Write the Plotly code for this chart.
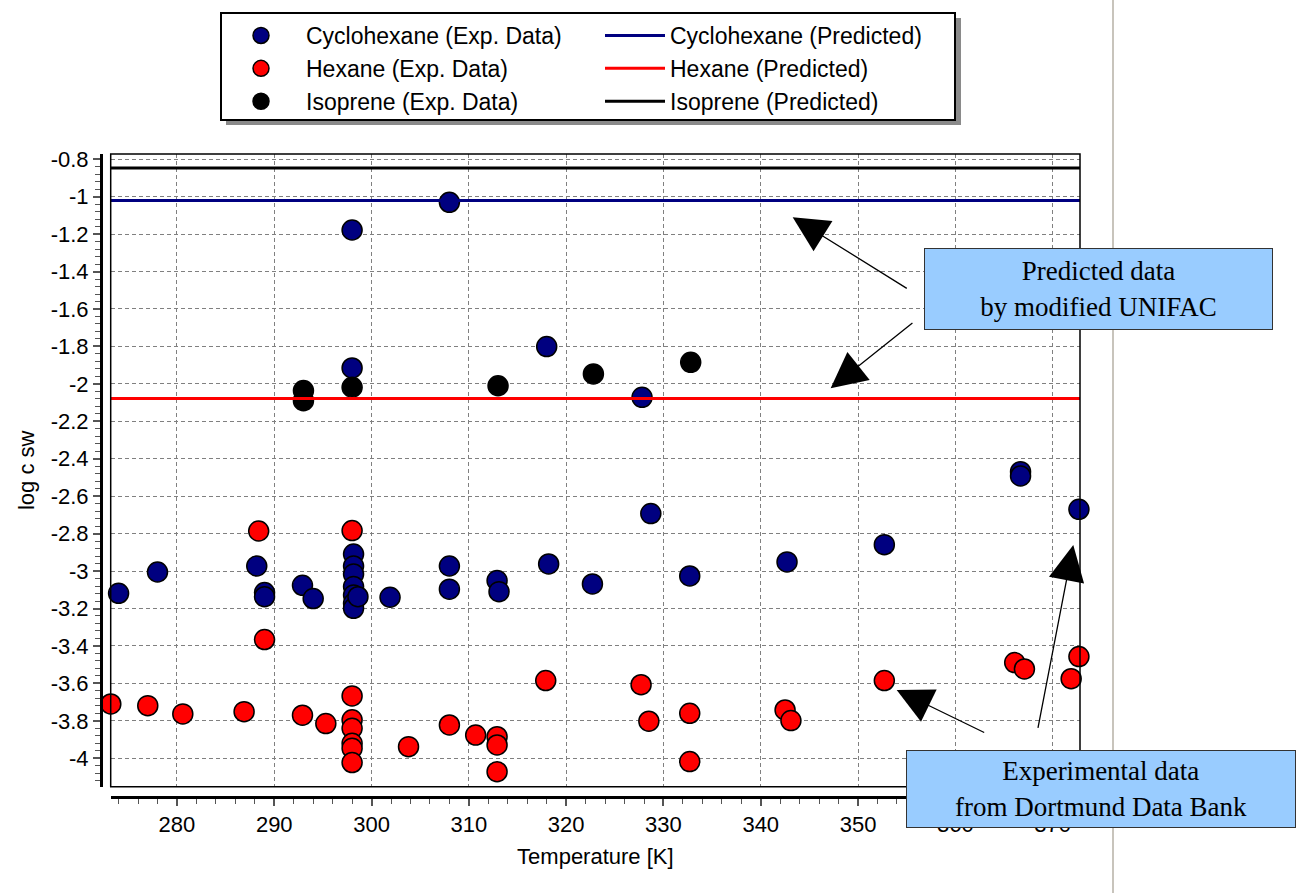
import plotly.graph_objects as go

# ---------------- data ----------------
cyc_T = [274.0, 278.0, 288.2, 289.0, 289.0, 292.9, 294.0,
         298.15, 298.15, 298.15, 298.15, 298.15, 298.15, 298.15, 298.6, 301.9,
         308.0, 308.0, 312.9, 313.1, 318.2, 322.7, 328.7, 332.7, 342.7,
         352.7, 366.7, 366.7, 372.7,
         298.0, 308.0, 298.0, 318.0, 327.8]
cyc_logc = [-3.119, -3.005, -2.973, -3.115, -3.137, -3.076, -3.147,
            -2.909, -2.973, -3.016, -3.083, -3.128, -3.172, -3.199, -3.137, -3.140,
            -2.973, -3.097, -3.051, -3.110, -2.962, -3.069, -2.693, -3.026, -2.951,
            -2.859, -2.469, -2.492, -2.670,
            -1.178, -1.030, -1.915, -1.801, -2.072]

hex_T = [288.4, 298.0, 289.0, 273.2, 277.0, 280.6, 286.9, 292.9, 295.3,
         298.0, 298.0, 298.0, 298.0, 298.0, 298.0, 303.8,
         308.0, 310.7, 312.9, 312.9, 312.9, 317.9, 327.7, 328.5, 332.7, 332.7,
         342.5, 343.1, 352.7, 366.1, 367.1, 372.7, 371.9]
hex_logc = [-2.786, -2.784, -3.366, -3.710, -3.719, -3.763, -3.751, -3.770, -3.815,
            -3.667, -3.795, -3.840, -3.920, -3.947, -4.023, -3.938,
            -3.822, -3.876, -3.885, -3.929, -4.072, -3.585, -3.607, -3.802, -3.760, -4.018,
            -3.742, -3.799, -3.585, -3.489, -3.523, -3.457, -3.575]

iso_T = [293.0, 293.0, 298.0, 313.0, 322.8, 332.8]
iso_logc = [-2.036, -2.090, -2.018, -2.010, -1.947, -1.885]

pred_T = [273.15, 373.15]
cyc_pred = [-1.021, -1.021]
hex_pred = [-2.078, -2.078]
iso_pred = [-0.847, -0.847]

x_tickvals = [280, 290, 300, 310, 320, 330, 340, 350, 360, 370]
y_tickvals = [-0.8, -1.0, -1.2, -1.4, -1.6, -1.8, -2.0, -2.2, -2.4, -2.6,
              -2.8, -3.0, -3.2, -3.4, -3.6, -3.8, -4.0]
y_ticktext = ["-0.8", "-1", "-1.2", "-1.4", "-1.6", "-1.8", "-2", "-2.2", "-2.4", "-2.6",
              "-2.8", "-3", "-3.2", "-3.4", "-3.6", "-3.8", "-4"]

# ---------------- layout geometry (pixels) ----------------
W, H = 1297, 893
ML, MR, MT, MB = 101, 217, 154, 96
PW, PH = W - ML - MR, H - MT - MB


def px(x):
    return (x - ML) / PW


def py(y):
    return (H - MB - y) / PH


SANS = "Liberation Sans, Arial, sans-serif"
SERIF = "Liberation Serif, Times New Roman, serif"

fig = go.Figure()

marker_line = dict(color="black", width=1.5)
fig.add_trace(go.Scatter(x=cyc_T, y=cyc_logc, mode="markers", name="Cyclohexane (Exp. Data)",
                         marker=dict(size=20, color="#000080", line=marker_line),
                         cliponaxis=False, legend="legend"))
fig.add_trace(go.Scatter(x=hex_T, y=hex_logc, mode="markers", name="Hexane (Exp. Data)",
                         marker=dict(size=20, color="#FF0000", line=marker_line),
                         cliponaxis=False, legend="legend"))
fig.add_trace(go.Scatter(x=iso_T, y=iso_logc, mode="markers", name="Isoprene (Exp. Data)",
                         marker=dict(size=20, color="#000000", line=marker_line),
                         cliponaxis=False, legend="legend"))
fig.add_trace(go.Scatter(x=pred_T, y=cyc_pred, mode="lines", name="Cyclohexane (Predicted)",
                         line=dict(color="#000080", width=3), legend="legend2"))
fig.add_trace(go.Scatter(x=pred_T, y=hex_pred, mode="lines", name="Hexane (Predicted)",
                         line=dict(color="#FF0000", width=3), legend="legend2"))
fig.add_trace(go.Scatter(x=pred_T, y=iso_pred, mode="lines", name="Isoprene (Predicted)",
                         line=dict(color="#000000", width=3), legend="legend2"))

grid = dict(showgrid=True, gridcolor="#808080", griddash="4px,3px", gridwidth=1.3)

fig.update_layout(
    width=W, height=H,
    margin=dict(l=ML, r=MR, t=MT, b=MB, pad=0),
    paper_bgcolor="white", plot_bgcolor="white",
    font=dict(family=SANS, size=22, color="black"),
    xaxis=dict(range=[273.19, 372.81], domain=[px(110.7), 1], anchor="free", position=0,
               showline=True, linewidth=3, linecolor="black", mirror=False,
               ticks="outside", ticklen=7, tickwidth=1.5, tickcolor="#555555",
               tickmode="array", tickvals=x_tickvals, zeroline=False,
               tickfont=dict(size=22),
               minor=dict(dtick=2, tick0=280, ticks="outside", ticklen=5, tickwidth=1.2,
                          tickcolor="#555555", showgrid=False),
               title=dict(text="Temperature [K]", font=dict(size=22), standoff=12),
               **grid),
    yaxis=dict(range=[-4.152, -0.772], domain=[py(786.7), 1], anchor="free", position=0,
               showline=True, linewidth=3, linecolor="black",
               ticks="outside", ticklen=7, tickwidth=1.5, tickcolor="#555555",
               tickmode="array", tickvals=y_tickvals, ticktext=y_ticktext, zeroline=False,
               tickfont=dict(size=22),
               minor=dict(dtick=0.04, tick0=-0.8, ticks="outside", ticklen=5, tickwidth=1.2,
                          tickcolor="#555555", showgrid=False),
               title=dict(text="log c sw", font=dict(size=22), standoff=8),
               **grid),
    legend=dict(x=px(216), y=py(14), xanchor="left", yanchor="top",
                bgcolor="rgba(0,0,0,0)", borderwidth=0, font=dict(size=23),
                itemwidth=80, tracegroupgap=0),
    legend2=dict(x=px(600), y=py(14), xanchor="left", yanchor="top",
                 bgcolor="rgba(0,0,0,0)", borderwidth=0, font=dict(size=23),
                 itemwidth=60, tracegroupgap=0),
    showlegend=True,
)

shapes = [
    # legend shadow and box
    dict(type="rect", xref="paper", yref="paper", x0=px(226), x1=px(961), y0=py(125), y1=py(18),
         fillcolor="#8a8a8a", line=dict(width=0), layer="above"),
    dict(type="rect", xref="paper", yref="paper", x0=px(221), x1=px(955), y0=py(120), y1=py(13),
         fillcolor="white", line=dict(color="black", width=2), layer="above"),
    # plot frame
    dict(type="rect", xref="x domain", yref="y domain", x0=0, x1=1, y0=0, y1=1,
         line=dict(color="black", width=1.5), layer="above"),
    # right-hand grey separator
    dict(type="line", xref="paper", yref="paper", x0=px(1113), x1=px(1113), y0=py(893), y1=py(0),
         line=dict(color="#c8c4bc", width=2), layer="above"),
]
fig.update_layout(shapes=shapes)

box_style = dict(bgcolor="#99CCFF", bordercolor="#333333", borderwidth=1, borderpad=0,
                 font=dict(family=SERIF, size=27, color="black"), showarrow=False,
                 xref="paper", yref="paper", xanchor="center", yanchor="middle", align="center")
arrow_style = dict(text="", showarrow=True, arrowhead=2, arrowsize=5.5, arrowwidth=1.3,
                   arrowcolor="black", xref="x", yref="y", axref="pixel", ayref="pixel", standoff=0)

annotations = [
    dict(x=343.28, y=-1.110, ax=115.6, ay=72, **arrow_style),
    dict(x=347.18, y=-2.024, ax=83.3, ay=-66.6, **arrow_style),
    dict(x=353.97, y=-3.635, ax=89, ay=43.3, **arrow_style),
    dict(x=372.12, y=-2.861, ax=-35.6, ay=184.3, **arrow_style),
    dict(text="Predicted data<br>by modified UNIFAC", x=px(1098.4), y=py(288.5),
         width=347, height=80, **box_style),
    dict(text="Experimental data<br>from Dortmund Data Bank", x=px(1101.3), y=py(788.5),
         width=388, height=76, **box_style),
]
fig.update_layout(annotations=annotations)

fig.write_html("out.html", config={"displayModeBar": False},
               post_script="document.body.style.margin='0px';")
